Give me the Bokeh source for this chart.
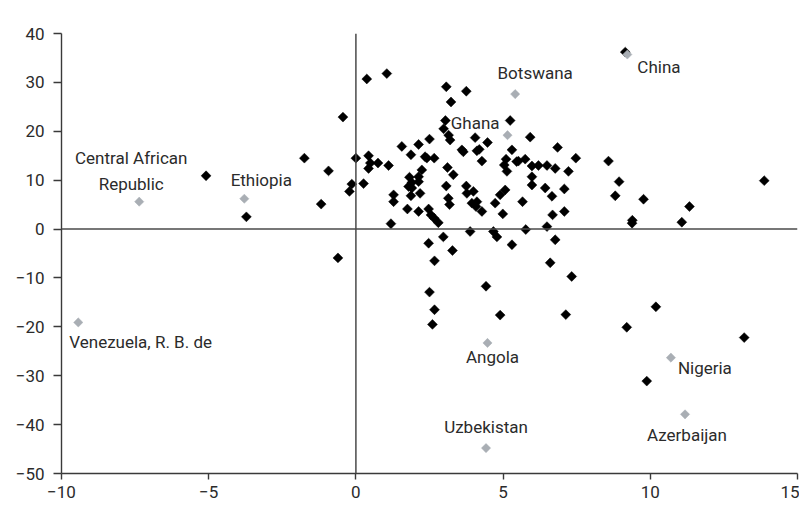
import numpy as np
from bokeh.plotting import figure
from bokeh.models import ColumnDataSource, Span, FixedTicker, Range1d
from bokeh.embed import file_html
from bokeh.resources import INLINE
from bokeh.core.properties import value

# ---------------- data ----------------
x_black = [-5.09, -3.72, -1.75, -0.93, -1.18, -0.44, 0.0, -0.14, -0.22, 0.26, 0.37, 1.05,
           0.43, 0.49, 0.43, 0.75, 1.11, 1.19, 1.28, 1.28, -0.61,
           3.07, 3.75, 3.23, 3.04, 2.98, 3.15, 3.20, 2.50, 2.13, 1.56, 1.87, 4.05, 3.60, 4.11,
           2.35, 2.66, 5.24, 4.47, 5.92, 6.85, 7.47, 4.28, 5.30, 5.10, 5.04, 5.13, 5.52, 5.75,
           5.98, 6.20, 6.49, 6.77, 7.22, 5.98, 5.98, 6.43, 6.66, 7.08, 7.08, 6.68, 6.49, 6.77,
           5.77, 5.66, 5.30, 4.99, 4.73, 4.90, 5.07, 4.67, 4.79, 3.88, 3.28, 2.97, 2.47, 2.67,
           3.07, 3.11, 3.31, 3.14, 3.18, 3.75, 3.77, 3.99, 3.94, 4.08, 4.28, 4.11, 2.24, 2.13,
           1.82, 1.90, 1.79, 1.90, 2.13, 1.87, 2.18, 1.75, 2.13, 2.47, 2.55, 2.66, 2.80, 2.41,
           3.65, 4.19, 5.46,
           6.60, 7.33, 4.42, 2.50, 2.67, 2.60, 4.90, 7.13, 9.20, 10.19, 13.19, 9.88,
           8.58, 8.94, 8.81, 9.77, 9.39, 9.38, 11.33, 11.07, 13.87, 9.15]
y_black = [10.9, 2.5, 14.5, 11.9, 5.1, 22.9, 14.5, 9.2, 7.7, 9.3, 30.7, 31.8,
           15.0, 13.5, 12.4, 13.5, 13.0, 1.1, 7.0, 5.6, -5.9,
           29.1, 28.2, 26.0, 22.2, 20.5, 19.2, 18.2, 18.4, 17.3, 16.9, 15.2, 18.7, 16.2, 16.0,
           14.8, 14.5, 22.2, 17.7, 18.8, 16.7, 14.5, 13.9, 16.2, 14.3, 13.1, 11.8, 13.9, 14.3,
           12.9, 13.0, 13.0, 12.4, 11.8, 10.7, 9.0, 8.4, 6.7, 8.2, 3.6, 2.9, 0.5, -2.2,
           -0.1, 5.6, -3.2, 3.1, 5.3, 7.0, 8.0, -0.5, -1.6, -0.5, -4.4, -1.6, -2.9, -6.5,
           8.8, 12.6, 11.1, 6.3, 5.0, 8.8, 7.3, 7.7, 5.3, 4.6, 3.6, 5.6, 12.1, 10.7,
           10.6, 9.5, 8.7, 8.4, 9.7, 6.8, 7.3, 4.1, 3.6, 4.1, 2.9, 2.2, 1.3, 14.5,
           15.8, 16.3, 13.8,
           -6.9, -9.7, -11.7, -12.9, -16.5, -19.5, -17.6, -17.5, -20.1, -15.9, -22.2, -31.1,
           13.9, 9.7, 6.8, 6.1, 1.8, 1.2, 4.6, 1.4, 9.9, 36.2]

countries = ["Central African\nRepublic", "Ethiopia", "Venezuela, R. B. de", "Botswana", "Ghana",
             "China", "Angola", "Nigeria", "Uzbekistan", "Azerbaijan"]
x_labeled = [-7.36, -3.79, -9.43, 5.41, 5.15, 9.22, 4.47, 10.70, 4.42, 11.18]
y_labeled = [5.6, 6.2, -19.1, 27.6, 19.2, 35.7, -23.3, -26.3, -44.8, -37.9]

x_ticks = [-10, -5, 0, 5, 10, 15]
x_tick_labels = ["\u221210", "\u22125", "0", "5", "10", "15"]
y_ticks = [-50, -40, -30, -20, -10, 0, 10, 20, 30, 40]
y_tick_labels = ["\u221250", "\u221240", "\u221230", "\u221220", "\u221210", "0", "10", "20", "30", "40"]

# ---------------- label styling (screen offsets) ----------------
label_align = ["center", "center", "left", "center", "right", "left", "center", "left", "center", "center"]
label_dx = [-8, 17, -9, 20, -8, 10, 5, 7, 0, 2]
label_dy = [-31, -19, 20, -21, -12, 12, 14, 10, -21, 21]

FONT = "Roboto"
TXT = "#2b2b2b"
AX = "#3a3a3a"

p = figure(width=799, height=504, output_backend="svg", toolbar_location=None,
           x_range=Range1d(-10, 15), y_range=Range1d(-50, 40),
           min_border_left=61, min_border_right=2, min_border_top=33, min_border_bottom=31)
p.outline_line_color = None
p.xgrid.visible = False
p.ygrid.visible = False
p.background_fill_color = "white"

# zero lines
p.add_layout(Span(location=0, dimension="height", line_color="#4a4a4a", line_width=1.5))
p.add_layout(Span(location=0, dimension="width", line_color="#4a4a4a", line_width=1.5))

p.scatter(x_black, y_black, marker="square", angle=np.pi / 4, size=7,
          fill_color="black", line_color="black", line_width=0.5)

src = ColumnDataSource(dict(x=x_labeled, y=y_labeled, text=countries, align=label_align,
                            dx=label_dx, dy=label_dy))
p.scatter("x", "y", source=src, marker="square", angle=np.pi / 4, size=6.5,
          fill_color="#a9aeb4", line_color="#a9aeb4", line_width=0.5)
p.text("x", "y", text="text", source=src, x_offset="dx", y_offset="dy",
       text_align="align", text_baseline="middle", text_font=value(FONT),
       text_font_size="17px", text_color=TXT, text_line_height=1.3)

# axes
for ax, ticks, labels in ((p.xaxis, x_ticks, x_tick_labels), (p.yaxis, y_ticks, y_tick_labels)):
    ax.ticker = FixedTicker(ticks=ticks)
    ax.major_label_overrides = {t: l for t, l in zip(ticks, labels)}
    ax.axis_line_color = AX
    ax.axis_line_width = 1.4
    ax.major_tick_line_color = AX
    ax.major_tick_line_width = 1.4
    ax.minor_tick_line_color = None
    ax.major_tick_in = 0
    ax.major_label_text_font = FONT
    ax.major_label_text_font_size = "17px"
    ax.major_label_text_color = TXT

p.yaxis.major_tick_out = 8
p.yaxis.major_label_standoff = 9
p.xaxis.major_tick_out = 6
p.xaxis.major_label_standoff = 6

open("out.html", "w").write(file_html(p, INLINE))
